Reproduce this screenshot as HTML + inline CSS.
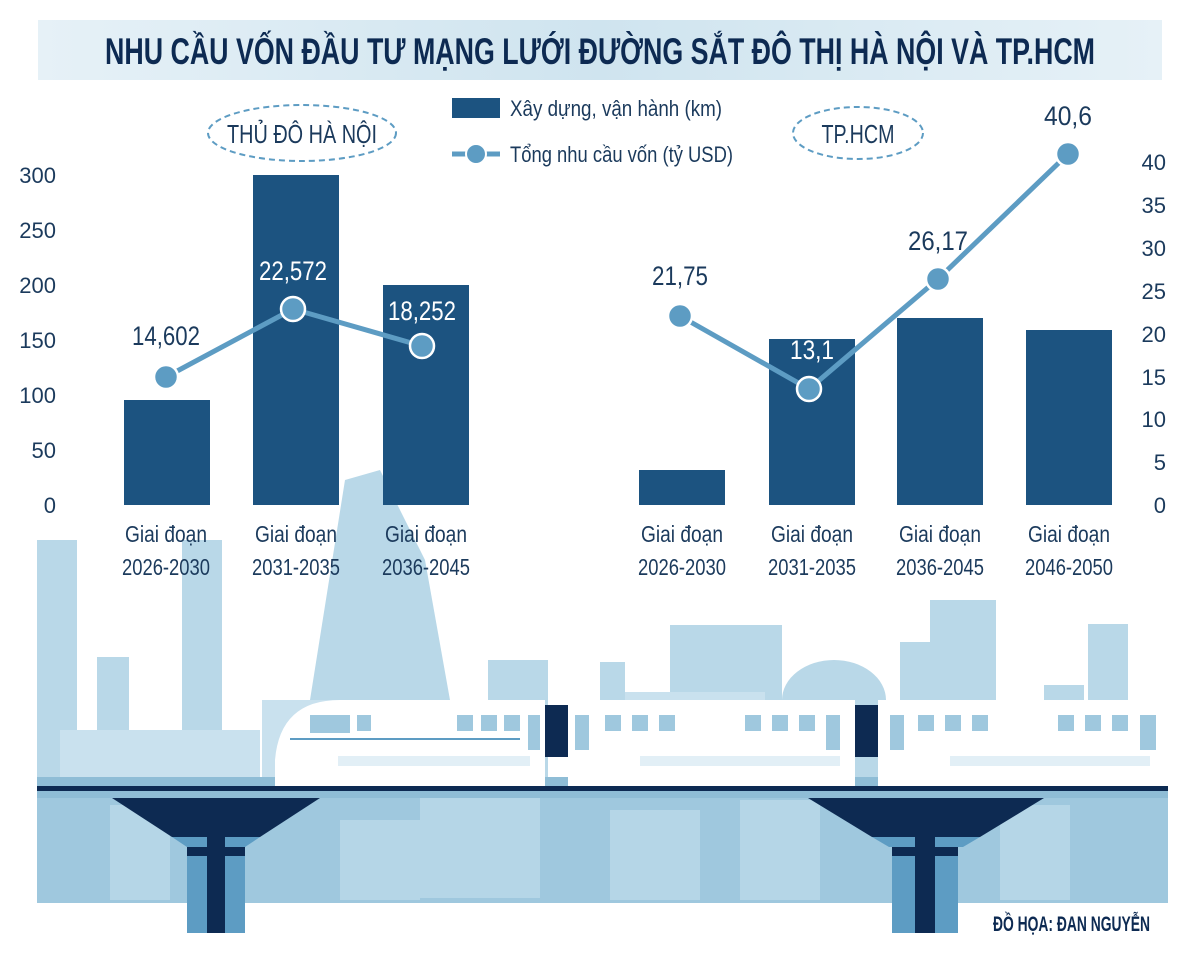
<!DOCTYPE html>
<html><head><meta charset="utf-8"><style>
body{margin:0;background:#fff}
svg{display:block}
text{font-family:"Liberation Sans Narrow","Liberation Sans",sans-serif}
</style></head><body>
<svg width="1200" height="958" viewBox="0 0 1200 958" xmlns="http://www.w3.org/2000/svg">
<defs>
<linearGradient id="tg" x1="0" x2="1" y1="0" y2="0">
<stop offset="0" stop-color="#e6f1f7"/><stop offset="0.5" stop-color="#cfe4ef"/><stop offset="1" stop-color="#e6f1f7"/>
</linearGradient>
</defs>
<rect x="38" y="20" width="1124" height="60" fill="url(#tg)"/>
<text x="600" y="64" text-anchor="middle" font-size="37" font-weight="bold" fill="#0d2a52" textLength="990" lengthAdjust="spacingAndGlyphs">NHU CẦU VỐN ĐẦU TƯ MẠNG LƯỚI ĐƯỜNG SẮT ĐÔ THỊ HÀ NỘI VÀ TP.HCM</text>

<g fill="#b9d8e8">
<rect x="37" y="540" width="40" height="250"/>
<rect x="97" y="657" width="32" height="133"/>
<rect x="182" y="540" width="40" height="250"/>
<polygon points="310,700 345,480 380,470 425,560 450,700"/>
<rect x="488" y="660" width="60" height="130"/>
<rect x="600" y="662" width="25" height="128"/>
<rect x="670" y="625" width="112" height="165"/>
<rect x="930" y="600" width="66" height="190"/>
<rect x="900" y="642" width="32" height="148"/>
<rect x="1088" y="624" width="40" height="166"/>
<rect x="1044" y="685" width="40" height="105"/>
<path d="M782,700 A52,40 0 0 1 886,700 L886,790 L782,790Z"/>
</g>
<g fill="#c9e1ee">
<rect x="60" y="730" width="200" height="60"/>
<rect x="262" y="700" width="90" height="90"/>
<rect x="625" y="692" width="140" height="98"/>
</g>
<rect x="37" y="777" width="1131" height="9" fill="#8fbdd6"/>
<rect x="37" y="786" width="1131" height="5" fill="#0d2a52"/>
<rect x="37" y="791" width="1131" height="7" fill="#8fbdd6"/>
<rect x="37" y="798" width="1131" height="105" fill="#9fc8de"/>
<g fill="#b5d6e7">
<rect x="110" y="805" width="60" height="95"/><rect x="340" y="820" width="80" height="80"/>
<rect x="420" y="798" width="120" height="100"/><rect x="610" y="810" width="90" height="90"/>
<rect x="740" y="800" width="80" height="100"/><rect x="1000" y="805" width="70" height="95"/>
</g>
<g>
<polygon points="112,798 320,798 260,837 172,837" fill="#0d2a52"/>
<polygon points="172,837 260,837 245,847 187,847" fill="#5d9cc3"/>
<rect x="187" y="847" width="58" height="86" fill="#5d9cc3"/>
<rect x="187" y="847" width="58" height="9" fill="#0d2a52"/>
<rect x="207" y="798" width="18" height="135" fill="#0d2a52"/>
<polygon points="808,798 1044,798 980,837 872,837" fill="#0d2a52"/>
<polygon points="872,837 980,837 963,847 889,847" fill="#5d9cc3"/>
<rect x="892" y="847" width="66" height="86" fill="#5d9cc3"/>
<rect x="892" y="847" width="66" height="9" fill="#0d2a52"/>
<rect x="915" y="798" width="20" height="135" fill="#0d2a52"/>
</g>
<g>
<path d="M275,786 L275,760 Q280,700 340,700 L545,700 L545,786Z" fill="#fff"/>
<rect x="568" y="700" width="287" height="86" fill="#fff"/>
<rect x="878" y="700" width="290" height="86" fill="#fff"/>
<rect x="545" y="705" width="23" height="52" fill="#0d2a52"/>
<rect x="855" y="705" width="23" height="52" fill="#0d2a52"/>
<g fill="#9fc8de">
<rect x="310" y="715" width="40" height="18"/><rect x="357" y="715" width="14" height="16"/>
<rect x="457" y="715" width="16" height="16"/><rect x="481" y="715" width="16" height="16"/><rect x="504" y="715" width="16" height="16"/><rect x="528" y="715" width="12" height="35"/>
<rect x="575" y="715" width="14" height="35"/><rect x="605" y="715" width="16" height="16"/><rect x="632" y="715" width="16" height="16"/><rect x="659" y="715" width="16" height="16"/>
<rect x="745" y="715" width="16" height="16"/><rect x="772" y="715" width="16" height="16"/><rect x="799" y="715" width="16" height="16"/><rect x="826" y="715" width="14" height="35"/>
<rect x="890" y="715" width="14" height="35"/><rect x="918" y="715" width="16" height="16"/><rect x="945" y="715" width="16" height="16"/><rect x="972" y="715" width="16" height="16"/>
<rect x="1058" y="715" width="16" height="16"/><rect x="1085" y="715" width="16" height="16"/><rect x="1112" y="715" width="16" height="16"/><rect x="1140" y="715" width="16" height="35"/>
</g>
<g fill="#e2eff6">
<rect x="338" y="756" width="90" height="10"/><rect x="420" y="756" width="110" height="10"/>
<rect x="640" y="756" width="200" height="10"/><rect x="950" y="756" width="200" height="10"/>
</g>
<rect x="290" y="738" width="230" height="2" fill="#5d9cc3"/>
</g>
<text x="993" y="931" font-size="21" font-weight="bold" fill="#0d2a52" textLength="157" lengthAdjust="spacingAndGlyphs">ĐỒ HỌA: ĐAN NGUYỄN</text>

<g font-size="22" fill="#1b3a5c" text-anchor="end">
<text x="56" y="183">300</text><text x="56" y="238">250</text><text x="56" y="293">200</text>
<text x="56" y="348">150</text><text x="56" y="403">100</text><text x="56" y="458">50</text><text x="56" y="513">0</text>
</g>
<g font-size="22" fill="#1b3a5c" text-anchor="end">
<text x="1166" y="170">40</text><text x="1166" y="213">35</text><text x="1166" y="256">30</text><text x="1166" y="299">25</text>
<text x="1166" y="342">20</text><text x="1166" y="385">15</text><text x="1166" y="427">10</text><text x="1166" y="470">5</text><text x="1166" y="513">0</text>
</g>

<g fill="#1c5380">
<rect x="124" y="400" width="86" height="105"/>
<rect x="253" y="175" width="86" height="330"/>
<rect x="383" y="285" width="86" height="220"/>
<rect x="639" y="470" width="86" height="35"/>
<rect x="769" y="339" width="86" height="166"/>
<rect x="897" y="318" width="86" height="187"/>
<rect x="1026" y="330" width="86" height="175"/>
</g>

<g stroke="#5d9cc3" stroke-width="5" fill="none">
<polyline points="166,377 293,309 422,346"/>
<polyline points="680,316 809,389 938,279 1068,154"/>
</g>
<g fill="#5d9cc3" stroke="#fff" stroke-width="2.5">
<circle cx="166" cy="377" r="12"/><circle cx="293" cy="309" r="12"/><circle cx="422" cy="346" r="12"/>
<circle cx="680" cy="316" r="12"/><circle cx="809" cy="389" r="12"/><circle cx="938" cy="279" r="12"/><circle cx="1068" cy="154" r="12"/>
</g>
<g font-size="27" text-anchor="middle" lengthAdjust="spacingAndGlyphs">
<text x="166" y="345" fill="#1b3a5c" textLength="68" lengthAdjust="spacingAndGlyphs">14,602</text>
<text x="293" y="280" fill="#fff" textLength="68" lengthAdjust="spacingAndGlyphs">22,572</text>
<text x="422" y="320" fill="#fff" textLength="68" lengthAdjust="spacingAndGlyphs">18,252</text>
<text x="680" y="285" fill="#1b3a5c" textLength="56" lengthAdjust="spacingAndGlyphs">21,75</text>
<text x="812" y="359" fill="#fff" textLength="44" lengthAdjust="spacingAndGlyphs">13,1</text>
<text x="938" y="250" fill="#1b3a5c" textLength="60" lengthAdjust="spacingAndGlyphs">26,17</text>
<text x="1068" y="125" fill="#1b3a5c" textLength="48" lengthAdjust="spacingAndGlyphs">40,6</text>
</g>

<g font-size="23" fill="#1b3a5c" text-anchor="middle">
<text x="166" y="542" textLength="82" lengthAdjust="spacingAndGlyphs">Giai đoạn</text><text x="166" y="575" textLength="88" lengthAdjust="spacingAndGlyphs">2026-2030</text>
<text x="296" y="542" textLength="82" lengthAdjust="spacingAndGlyphs">Giai đoạn</text><text x="296" y="575" textLength="88" lengthAdjust="spacingAndGlyphs">2031-2035</text>
<text x="426" y="542" textLength="82" lengthAdjust="spacingAndGlyphs">Giai đoạn</text><text x="426" y="575" textLength="88" lengthAdjust="spacingAndGlyphs">2036-2045</text>
<text x="682" y="542" textLength="82" lengthAdjust="spacingAndGlyphs">Giai đoạn</text><text x="682" y="575" textLength="88" lengthAdjust="spacingAndGlyphs">2026-2030</text>
<text x="812" y="542" textLength="82" lengthAdjust="spacingAndGlyphs">Giai đoạn</text><text x="812" y="575" textLength="88" lengthAdjust="spacingAndGlyphs">2031-2035</text>
<text x="940" y="542" textLength="82" lengthAdjust="spacingAndGlyphs">Giai đoạn</text><text x="940" y="575" textLength="88" lengthAdjust="spacingAndGlyphs">2036-2045</text>
<text x="1069" y="542" textLength="82" lengthAdjust="spacingAndGlyphs">Giai đoạn</text><text x="1069" y="575" textLength="88" lengthAdjust="spacingAndGlyphs">2046-2050</text>
</g>

<rect x="452" y="98" width="48" height="20" fill="#1c5380"/>
<text x="510" y="116" font-size="22" fill="#1b3a5c" textLength="212" lengthAdjust="spacingAndGlyphs">Xây dựng, vận hành (km)</text>
<line x1="452" y1="154" x2="500" y2="154" stroke="#5d9cc3" stroke-width="5"/>
<circle cx="476" cy="154" r="10" fill="#5d9cc3" stroke="#fff" stroke-width="2"/>
<text x="510" y="162" font-size="22" fill="#1b3a5c" textLength="223" lengthAdjust="spacingAndGlyphs">Tổng nhu cầu vốn (tỷ USD)</text>

<ellipse cx="302" cy="133" rx="94" ry="28" fill="none" stroke="#5d9cc3" stroke-width="2" stroke-dasharray="6,4"/>
<text x="302" y="143" text-anchor="middle" font-size="26" fill="#1b3a5c" textLength="150" lengthAdjust="spacingAndGlyphs">THỦ ĐÔ HÀ NỘI</text>
<ellipse cx="858" cy="133" rx="65" ry="26" fill="none" stroke="#5d9cc3" stroke-width="2" stroke-dasharray="6,4"/>
<text x="858" y="143" text-anchor="middle" font-size="26" fill="#1b3a5c" textLength="73" lengthAdjust="spacingAndGlyphs">TP.HCM</text>
</svg>
</body></html>
